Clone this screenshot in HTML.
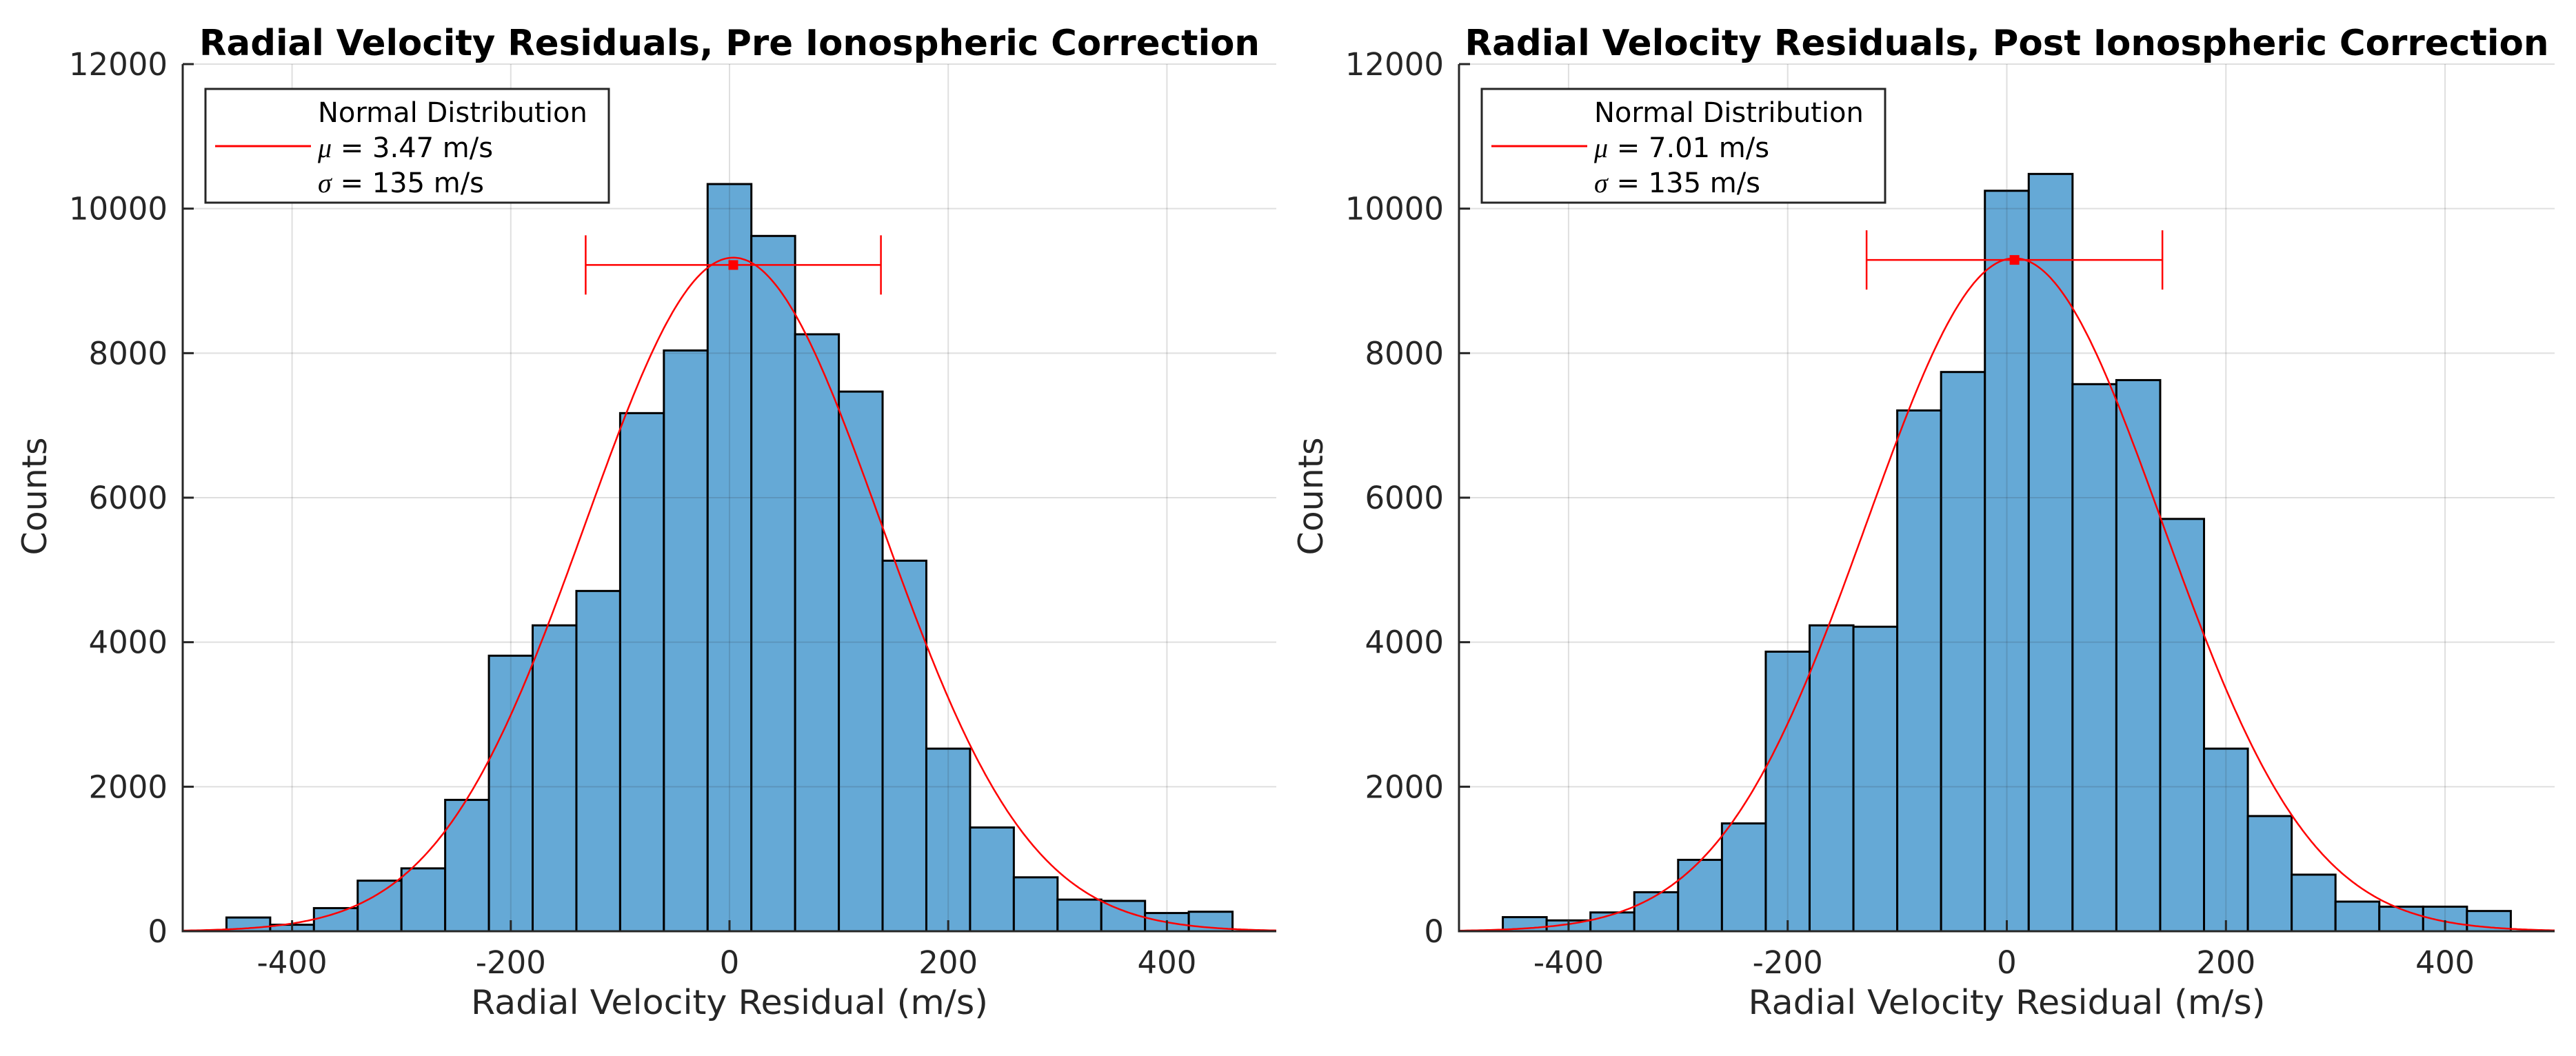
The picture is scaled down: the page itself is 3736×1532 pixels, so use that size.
<!DOCTYPE html>
<html><head><meta charset="utf-8"><style>
html,body{margin:0;padding:0;background:#fff;}
svg{display:block;font-family:"DejaVu Sans","Liberation Sans",sans-serif;}
</style></head><body>
<svg id="fig" width="3736" height="1532" viewBox="0 0 3736 1532" xmlns="http://www.w3.org/2000/svg"></svg>
<script>
const binEdgeStart = -460;
const binWidth = 40;
const preCounts = [190,90,320,700,870,1818,3813,4233,4709,7170,8037,10340,9622,8261,7468,5128,2527,1436,746,438,420,252,270];
const postCounts = [195,150,260,540,988,1492,3869,4233,4214,7207,7739,10247,10480,7571,7627,5706,2527,1594,783,410,340,340,280];
const means = [3.47, 7.01];
const sigmas = [135, 135];
const errBarY = [9220, 9290];
const xTicks = [-400,-200,0,200,400];
const yTicks = [0,2000,4000,6000,8000,10000,12000];
const titles = ["Radial Velocity Residuals, Pre Ionospheric Correction","Radial Velocity Residuals, Post Ionospheric Correction"];
const muLabels = ["3.47","7.01"];

const NS="http://www.w3.org/2000/svg";
const svg=document.getElementById('fig');
function mk(tag,attrs,parent){const e=document.createElementNS(NS,tag);for(const k in attrs)e.setAttribute(k,attrs[k]);(parent||svg).appendChild(e);return e;}

function panel(idx,counts,L,R,titleW){
  const T=93,B=1351,xmin=-500,xmax=500,ymax=12000;
  const g=mk('g',{});
  
  
  const X=v=>L+(v-xmin)/(xmax-xmin)*(R-L);
  const Y=v=>B-v/ymax*(B-T);
  counts.forEach((c,i)=>{
    const x0=X(binEdgeStart+i*binWidth),x1=X(binEdgeStart+(i+1)*binWidth);
    const r=mk('rect',{x:x0,y:Y(c),width:x1-x0,height:B-Y(c),fill:'#65a9d6',stroke:'#000','stroke-width':3},g);
    
    
  });
  xTicks.forEach(t=>{const l=mk('line',{x1:X(t),x2:X(t),y1:T,y2:B,stroke:'rgba(38,38,38,0.15)','stroke-width':2},g);
    
    });
  yTicks.forEach(t=>{const l=mk('line',{x1:L,x2:R,y1:Y(t),y2:Y(t),stroke:'rgba(38,38,38,0.15)','stroke-width':2},g);
    
    });
  const N=counts.reduce((a,b)=>a+b,0);
  const mu=means[idx],s=sigmas[idx];
  let d='';
  for(let v=xmin;v<=xmax;v+=2){const y=N*binWidth/(s*Math.sqrt(2*Math.PI))*Math.exp(-0.5*((v-mu)/s)**2);d+=(d?'L':'M')+X(v).toFixed(1)+','+Y(y).toFixed(1);}
  const c=mk('path',{d:d,fill:'none',stroke:'#ff0000','stroke-width':2.5},g);
  
  
  const ey=errBarY[idx];
  const eb=mk('g',{stroke:'#ff0000','stroke-width':2.5},g);
  
  
  mk('line',{x1:X(mu-s),x2:X(mu+s),y1:Y(ey),y2:Y(ey)},eb);
  mk('line',{x1:X(mu-s),x2:X(mu-s),y1:Y(ey)-43,y2:Y(ey)+43},eb);
  mk('line',{x1:X(mu+s),x2:X(mu+s),y1:Y(ey)-43,y2:Y(ey)+43},eb);
  const m=mk('rect',{x:X(mu)-7,y:Y(ey)-7,width:14,height:14,fill:'#ff0000',stroke:'none'},g);
  
  
  const ax=mk('path',{d:`M${L},${T}L${L},${B}L${R},${B}`,fill:'none',stroke:'#262626','stroke-width':3},g);
  
  
  xTicks.forEach(t=>{mk('line',{x1:X(t),x2:X(t),y1:B,y2:B-16,stroke:'#262626','stroke-width':3},g);
    const tx=mk('text',{x:X(t),y:1412,'text-anchor':'middle','font-size':45,fill:'#262626'},g);tx.textContent=t;
    
    });
  yTicks.forEach(t=>{mk('line',{x1:L,x2:L+16,y1:Y(t),y2:Y(t),stroke:'#262626','stroke-width':3},g);
    const tx=mk('text',{x:L-22,y:Y(t)+16,'text-anchor':'end','font-size':45,fill:'#262626'},g);tx.textContent=t;
    
    });
  const xl=mk('text',{x:(L+R)/2,y:1471,'text-anchor':'middle','font-size':49,fill:'#262626',textLength:750,lengthAdjust:'spacingAndGlyphs'},g);
  xl.textContent='Radial Velocity Residual (m/s)';
  
  
  const yl=mk('text',{x:0,y:0,'text-anchor':'middle','font-size':49,fill:'#262626',transform:`translate(${L-198},720) rotate(-90)`},g);
  yl.textContent='Counts';
  
  
  const tt=mk('text',{x:(L+R)/2,y:80,'text-anchor':'middle','font-size':52,'font-weight':'bold',fill:'#000',textLength:titleW,lengthAdjust:'spacingAndGlyphs'},g);
  tt.textContent=titles[idx];
  
  
  const lg=mk('g',{},g);
  
  
  const lx=L+33;
  mk('rect',{x:lx,y:129,width:585,height:165,fill:'#fff',stroke:'#262626','stroke-width':3},lg);
  mk('line',{x1:lx+14,x2:lx+153,y1:212,y2:212,stroke:'#ff0000','stroke-width':3},lg);
  const t1=mk('text',{x:lx+163,y:177,'font-size':40,fill:'#000'},lg);t1.textContent='Normal Distribution';
  const t2=mk('text',{x:lx+163,y:228,'font-size':40,fill:'#000'},lg);
  t2.innerHTML='<tspan font-family="Liberation Serif, serif" font-style="italic">μ</tspan> = '+muLabels[idx]+' m/s';
  const t3=mk('text',{x:lx+163,y:279,'font-size':40,fill:'#000'},lg);
  t3.innerHTML='<tspan font-family="Liberation Serif, serif" font-style="italic">σ</tspan> = '+sigmas[idx]+' m/s';
}
panel(0,preCounts,265,1851,1538);
panel(1,postCounts,2116,3705,1572);
</script>
</body></html>
